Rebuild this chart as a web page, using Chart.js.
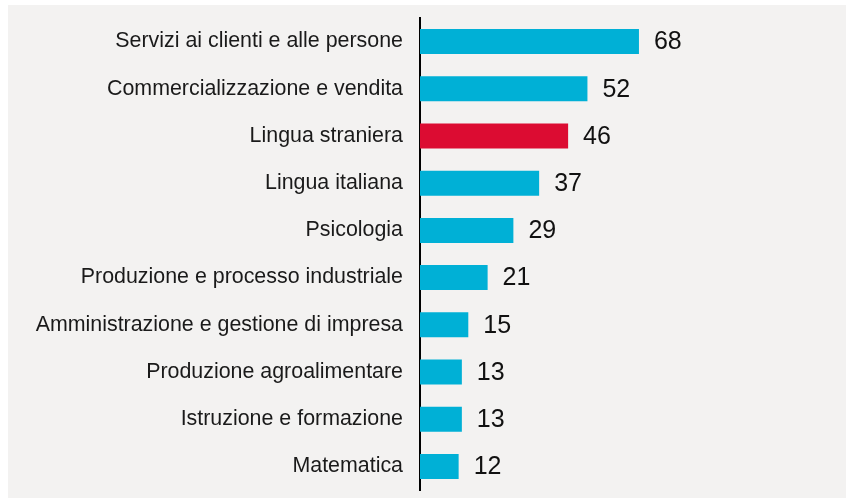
<!DOCTYPE html>
<html>
<head>
<meta charset="utf-8">
<script src="https://cdn.jsdelivr.net/npm/chart.js@4"></script>
<style>
  html, body { margin: 0; padding: 0; background: #fff; }
  #panel { position: absolute; left: 8px; top: 5px; width: 838px; height: 493px; background: #f3f2f1; }
</style>
</head>
<body>
<div id="panel"><canvas id="chart" width="838" height="493"></canvas></div>
<script>
const categories = [
  'Servizi ai clienti e alle persone',
  'Commercializzazione e vendita',
  'Lingua straniera',
  'Lingua italiana',
  'Psicologia',
  'Produzione e processo industriale',
  'Amministrazione e gestione di impresa',
  'Produzione agroalimentare',
  'Istruzione e formazione',
  'Matematica'
];
const values = [68, 52, 46, 37, 29, 21, 15, 13, 13, 12];
const highlight = 'Lingua straniera';

const FONT = '"Liberation Sans", Arial, sans-serif';

const valueLabels = {
  id: 'valueLabels',
  afterDatasetsDraw(chart) {
    const ctx = chart.ctx;
    const meta = chart.getDatasetMeta(0);
    ctx.save();
    ctx.font = '25px ' + FONT;
    ctx.fillStyle = '#111';
    ctx.textBaseline = 'middle';
    ctx.textAlign = 'left';
    meta.data.forEach((bar, i) => {
      ctx.fillText(String(values[i]), bar.x + 15, bar.y + 1);
    });
    ctx.restore();
  }
};

new Chart(document.getElementById('chart'), {
  type: 'bar',
  data: {
    labels: categories,
    datasets: [{
      data: values,
      backgroundColor: categories.map(c => c === highlight ? '#dc0c32' : '#00b0d6'),
      borderWidth: 0,
      categoryPercentage: 1,
      barPercentage: 0.53
    }]
  },
  options: {
    indexAxis: 'y',
    responsive: false,
    animation: false,
    layout: { padding: { left: 0, right: 104, top: 13, bottom: 8 } },
    plugins: { legend: { display: false }, tooltip: { enabled: false } },
    scales: {
      x: { display: false, min: 0, max: 100 },
      y: {
        grid: { display: false, drawTicks: false },
        border: { display: true, color: '#000', width: 2 },
        ticks: { color: '#1a1a1a', padding: 17, font: { family: FONT, size: 21.4 } },
        afterFit(scale) {
          scale.width = 412;
          scale.paddingTop = 0;
          scale.paddingBottom = 0;
        }
      }
    }
  },
  plugins: [valueLabels]
});
</script>
</body>
</html>
